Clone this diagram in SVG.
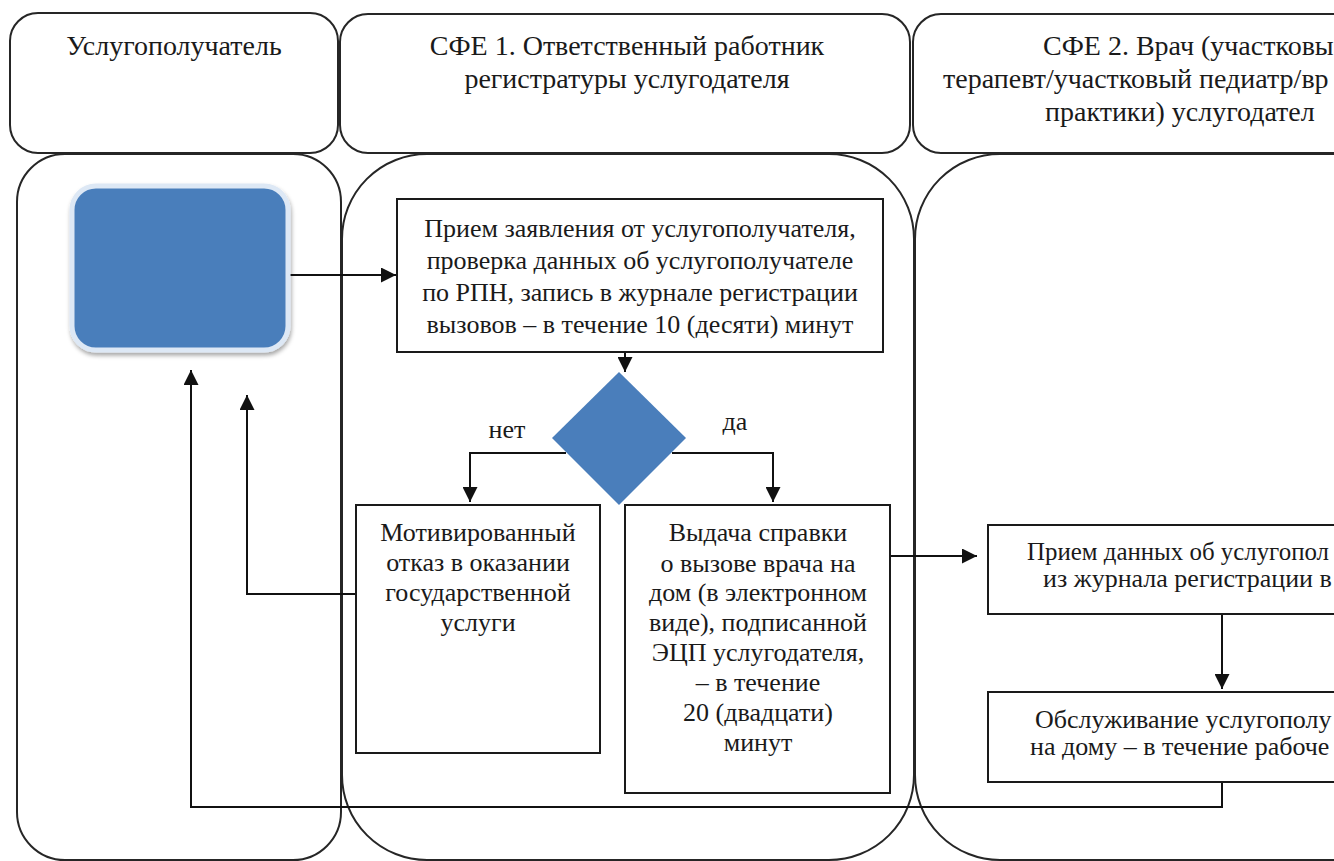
<svg xmlns="http://www.w3.org/2000/svg" width="1334" height="861" viewBox="0 0 1334 861">
<defs>
<style>
.lane{fill:#ffffff;stroke:#262626;stroke-width:2}
.box{fill:#ffffff;stroke:#1a1a1a;stroke-width:2}
.hd{font-family:'Liberation Serif','DejaVu Serif',serif;font-size:28px;fill:#1a1a1a}
.tx{font-family:'Liberation Serif','DejaVu Serif',serif;font-size:26px;fill:#1a1a1a;text-anchor:middle}
.txs{font-family:'Liberation Serif','DejaVu Serif',serif;font-size:26px;fill:#1a1a1a}
.cn{fill:none;stroke:#111111;stroke-width:2}
.blue{fill:#4a7ebb}
</style>
<marker id="ah" viewBox="0 0 10 10" refX="10" refY="5" markerWidth="7.5" markerHeight="7.5" markerUnits="strokeWidth" orient="auto">
<path d="M0,0 L10,5 L0,10 Z" fill="#111111"/>
</marker>
<filter id="sh" x="-10%" y="-10%" width="130%" height="130%">
<feDropShadow dx="1" dy="3" stdDeviation="2" flood-color="#000000" flood-opacity="0.35"/>
</filter>
</defs>

<g id="lanes">
<rect class="lane" x="17" y="154" width="324" height="706" rx="48" ry="48"/>
<rect class="lane" x="342" y="154" width="572" height="706" rx="85" ry="85"/>
<rect class="lane" x="915" y="154" width="520" height="706" rx="85" ry="85"/>
</g>

<g id="headers">
<g id="hdr1">
<rect class="lane" x="10" y="13" width="328" height="140" rx="28" ry="28"/>
<text class="hd" x="174" y="55" text-anchor="middle">Услугополучатель</text>
</g>
<g id="hdr2">
<rect class="lane" x="340" y="14" width="570" height="139" rx="28" ry="28"/>
<text class="hd" x="627" y="55" text-anchor="middle">СФЕ 1. Ответственный работник</text>
<text class="hd" x="627" y="88" text-anchor="middle">регистратуры услугодателя</text>
</g>
<g id="hdr3">
<rect class="lane" x="913" y="14" width="520" height="139" rx="28" ry="28"/>
<text class="hd" x="1043" y="55">СФЕ 2. Врач (участковы</text>
<text class="hd" x="943" y="88">терапевт/участковый педиатр/вр</text>
<text class="hd" x="1045" y="121">практики) услугодател</text>
</g>
</g>

<g id="connectors">
<line class="cn" x1="290" y1="275" x2="396" y2="275" marker-end="url(#ah)"/>
<line class="cn" x1="625" y1="352" x2="625" y2="372" marker-end="url(#ah)"/>
<polyline class="cn" points="566,453 470,453 470,502" marker-end="url(#ah)"/>
<polyline class="cn" points="672,453 773,453 773,502" marker-end="url(#ah)"/>
<polyline class="cn" points="356,594 247,594 247,395" marker-end="url(#ah)"/>
<line class="cn" x1="890" y1="556" x2="977" y2="556" marker-end="url(#ah)"/>
<line class="cn" x1="1222" y1="614" x2="1222" y2="689" marker-end="url(#ah)"/>
<polyline class="cn" points="1222,782 1222,807 191,807 191,370" marker-end="url(#ah)"/>
</g>

<g id="start">
<rect class="blue" x="72" y="186" width="216" height="164" rx="24" ry="24" stroke="#dde8f5" stroke-width="5" filter="url(#sh)"/>
</g>

<g id="n1">
<rect class="box" x="397" y="199" width="486" height="153"/>
<text class="tx" x="640" y="237">Прием заявления от услугополучателя,</text>
<text class="tx" x="640" y="269">проверка данных об услугополучателе</text>
<text class="tx" x="640" y="301">по РПН, запись в журнале регистрации</text>
<text class="tx" x="640" y="333">вызовов – в течение 10 (десяти) минут</text>
</g>

<g id="decision">
<polygon class="blue" points="619,372 686,438 619,505 552,438"/>
<text class="txs" x="507" y="438" text-anchor="middle">нет</text>
<text class="txs" x="735" y="430" text-anchor="middle">да</text>
</g>

<g id="n2">
<rect class="box" x="356" y="505" width="244" height="248"/>
<text class="tx" x="478" y="541">Мотивированный</text>
<text class="tx" x="478" y="571">отказ в оказании</text>
<text class="tx" x="478" y="601">государственной</text>
<text class="tx" x="478" y="631">услуги</text>
</g>

<g id="n3">
<rect class="box" x="625" y="505" width="265" height="288"/>
<text class="tx" x="758" y="541">Выдача справки</text>
<text class="tx" x="758" y="572">о вызове врача на</text>
<text class="tx" x="758" y="601">дом (в электронном</text>
<text class="tx" x="758" y="631">виде), подписанной</text>
<text class="tx" x="758" y="661">ЭЦП услугодателя,</text>
<text class="tx" x="758" y="691">– в течение</text>
<text class="tx" x="758" y="721">20 (двадцати)</text>
<text class="tx" x="758" y="751">минут</text>
</g>

<g id="n4">
<rect class="box" x="988" y="525" width="420" height="89"/>
<text class="txs" x="1027" y="560" textLength="302" lengthAdjust="spacingAndGlyphs">Прием данных об услугопол</text>
<text class="txs" x="1043" y="587">из журнала регистрации в</text>
</g>

<g id="n5">
<rect class="box" x="988" y="692" width="420" height="90"/>
<text class="txs" x="1035" y="728">Обслуживание услугополу</text>
<text class="txs" x="1030" y="755">на дому – в течение рабоче</text>
</g>
</svg>
